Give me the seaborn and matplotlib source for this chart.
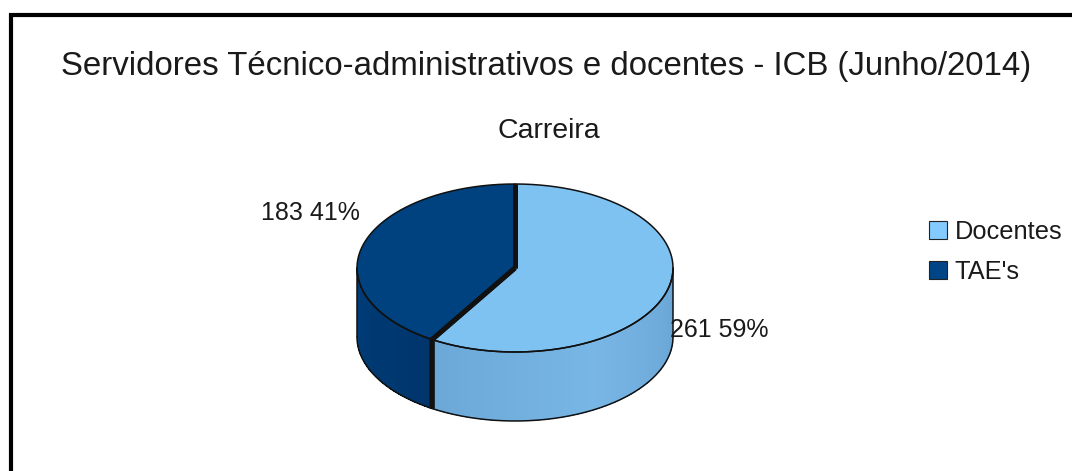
import numpy as np
import matplotlib
matplotlib.use("Agg")
import matplotlib.pyplot as plt
from matplotlib.patches import Polygon, Patch
from matplotlib.colors import LinearSegmentedColormap
import seaborn as sns

# data
categories = ["Docentes", "TAE's"]
counts = [261, 183]
title = "Servidores Técnico-administrativos e docentes - ICB (Junho/2014)"
subtitle = "Carreira"

# colours (legend swatch, lit top face, side gradient left/mid/right)
legend_colors = ["#83CAFF", "#004586"]
top_colors = ["#7EC2F2", "#00427F"]
side_colors = [["#6BA8D8", "#78B6E6", "#68A3D3"],
               ["#003D78", "#003972", "#00356C"]]
label_dy = [39, -32]

sns.set_theme(style="white")
plt.rcParams["font.family"] = ["Liberation Sans", "DejaVu Sans"]
txt = "#1a1a1a"

W, H = 1072, 471
fig = plt.figure(figsize=(W / 100, H / 100), dpi=100)
ax = fig.add_axes([0, 0, 1, 1])
ax.set_xlim(0, W)
ax.set_ylim(H, 0)
ax.axis("off")

# frame (only top and left edge visible in the crop)
ax.plot([11, 11, W + 5], [H + 5, 15, 15], color="black", lw=3, solid_joinstyle="miter",
        solid_capstyle="butt", zorder=1)

ax.text(546, 67, title, ha="center", va="center", fontsize=23.8, color=txt)
ax.text(549, 131, subtitle, ha="center", va="center", fontsize=20.5, color=txt)

# pie geometry
cx, cy, a, b, depth = 515, 268, 158, 84, 69


def ell(theta, dz=0.0):
    t = np.radians(theta)
    return cx + a * np.cos(t), cy - b * np.sin(t) + dz


total = sum(counts)
fracs = [c / total for c in counts]
start = 90.0
spans = []
for f in fracs:
    end = start - 360 * f
    spans.append((end, start))
    start = end

thin = 1.1
thick = 3.5

# side walls (front half is angles -180..0)
for i, (e, s) in enumerate(spans):
    lo, hi = max(e, -180), min(s, 0)
    if lo >= hi:
        continue
    cmap = LinearSegmentedColormap.from_list("side%d" % i, side_colors[i])
    th = np.linspace(lo, hi, int(hi - lo) + 2)
    for k in range(len(th) - 1):
        t0, t1 = th[k], th[k + 1] + 0.6
        x0, y0 = ell(t0)
        x1, y1 = ell(t1)
        poly = Polygon([(x0, y0), (x1, y1), (x1, y1 + depth), (x0, y0 + depth)],
                       closed=True, facecolor=cmap((k + 0.5) / (len(th) - 1)),
                       edgecolor="none", antialiased=False, zorder=2)
        ax.add_patch(poly)
    # outline of the wall
    tt = np.linspace(lo, hi, 200)
    bx, by = ell(tt, depth)
    ax.plot(bx, by, color="#111111", lw=thin, zorder=3)
    tx, ty = ell(tt)
    ax.plot(tx, ty, color="#111111", lw=thin, zorder=5)
    for edge in (lo, hi):
        if edge in (-180, 0):
            ex, ey = ell(edge)
            ax.plot([ex, ex], [ey, ey + depth], color="#111111", lw=thin, zorder=3)

# top faces
for i, (e, s) in enumerate(spans):
    tt = np.linspace(e, s, 300)
    px, py = ell(tt)
    pts = [(cx, cy)] + list(zip(px, py))
    ax.add_patch(Polygon(pts, closed=True, facecolor=top_colors[i],
                         edgecolor="none", zorder=4))
    ax.plot(px, py, color="#111111", lw=thin, zorder=5)

# slice dividers
for e, s in spans:
    for edge in (e, s):
        ex, ey = ell(edge)
        xs, ys = [cx, ex], [cy, ey]
        if -180 < (edge % 360) - 360 < 0:
            xs.append(ex)
            ys.append(ey + depth)
        ax.plot(xs, ys, color="#111111", lw=thick, zorder=6,
                solid_joinstyle="miter", solid_capstyle="butt")

# data labels
for i, (e, s) in enumerate(spans):
    mid = (e + s) / 2
    mx, my = ell(mid)
    lab = "%d %d%%" % (counts[i], round(fracs[i] * 100))
    ha = "left" if np.cos(np.radians(mid)) > 0 else "right"
    ax.text(mx + (3 if ha == "left" else -3), my + label_dy[i], lab, ha=ha, va="center",
            fontsize=18, color=txt, zorder=7)

# legend
handles = [Patch(facecolor=c, edgecolor="#222222", linewidth=0.8, label=n)
           for c, n in zip(legend_colors, categories)]
leg = ax.legend(handles=handles, loc="center left", bbox_to_anchor=(929 / W, 1 - 252 / H),
                frameon=False, fontsize=18.3, handlelength=0.7, handleheight=0.7,
                handletextpad=0.3, labelspacing=0.65, borderaxespad=0, borderpad=0)
for t in leg.get_texts():
    t.set_color(txt)

fig.savefig("out.png", dpi=100)
